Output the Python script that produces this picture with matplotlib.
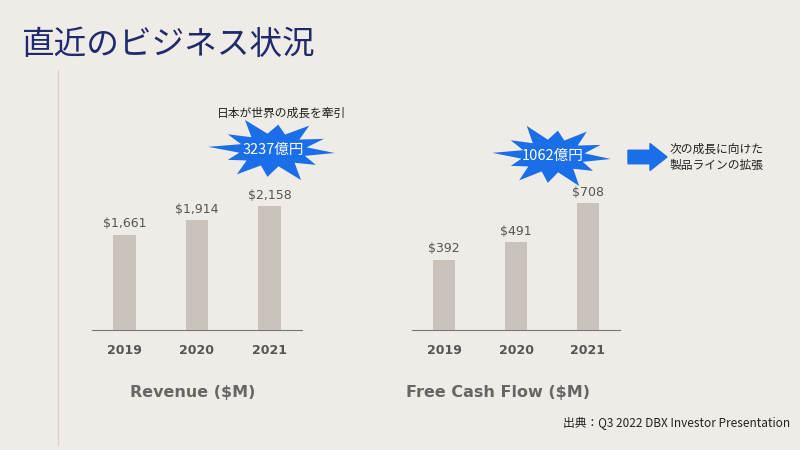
import numpy as np
import matplotlib.pyplot as plt
from matplotlib.patches import Polygon, FancyArrow

plt.rcParams['font.family'] = ['Noto Sans CJK JP', 'DejaVu Sans']

years = ['2019', '2020', '2021']
revenue = [1661, 1914, 2158]
fcf = [392, 491, 708]
rev_labels = ['$1,661', '$1,914', '$2,158']
fcf_labels = ['$392', '$491', '$708']

bg = '#efebe6'
bar_color = '#c9c3bb'
W, H = 800, 450

fig = plt.figure(figsize=(8, 4.5), dpi=100, facecolor=bg)


def fx(x):
    return x / W


def fy(y):
    return 1 - y / H


def bar_panel(left, right, top, values, labels, ymax, title, tx):
    ax = fig.add_axes([fx(left), fy(330), fx(right - left), fy(top) - fy(330)])
    ax.set_facecolor('none')
    x = np.arange(len(values))
    ax.bar(x, values, width=0.31, color=bar_color)
    for xi, v, lab in zip(x, values, labels):
        ax.text(xi, v + ymax * 0.03, lab, ha='center', va='bottom',
                fontsize=9, color='#555555', family='DejaVu Sans')
    ax.set_xlim(-0.45, len(values) - 0.55)
    ax.set_ylim(0, ymax)
    ax.set_yticks([])
    ax.set_xticks(x)
    ax.set_xticklabels(years, fontsize=9, fontweight='bold', color='#555555',
                       family='DejaVu Sans')
    ax.tick_params(axis='x', length=0, pad=10)
    for s in ['top', 'left', 'right']:
        ax.spines[s].set_visible(False)
    ax.spines['bottom'].set_color('#777777')
    fig.text(fx(tx), fy(393), title, ha='center', va='center', fontsize=11.5,
             fontweight='bold', color='#666666', family='DejaVu Sans')


bar_panel(92, 302, 181, revenue, rev_labels, 2600, 'Revenue ($M)', 193)
bar_panel(412, 620, 178, fcf, fcf_labels, 850, 'Free Cash Flow ($M)', 498)


def burst(cx, cy, rx, ry, label):
    n = 24
    ang = np.linspace(0, 2 * np.pi, n, endpoint=False)
    rad = np.where(np.arange(n) % 2 == 0, 1.0, 0.55)
    jitter = np.array([1.0, 1, 0.85, 1, 1.1, 1, 0.9, 1, 1.0, 1, 0.8, 1,
                       1.05, 1, 0.9, 1, 1.1, 1, 0.85, 1, 1.0, 1, 0.9, 1])
    r = rad * jitter
    pts = [(fx(cx + rx * ri * np.cos(a)), fy(cy + ry * ri * np.sin(a)))
           for a, ri in zip(ang + 0.1, r)]
    fig.patches.append(Polygon(pts, closed=True, transform=fig.transFigure,
                               facecolor='#1a6ee8', edgecolor='none'))
    fig.text(fx(cx), fy(cy), label, ha='center', va='center', fontsize=10.5,
             color='white')


burst(273, 150, 62, 30, '3237億円')
burst(553, 156, 58, 30, '1062億円')

fig.patches.append(FancyArrow(fx(628), fy(157), fx(22), 0, width=0.03,
                              head_width=0.06, head_length=fx(17),
                              length_includes_head=False,
                              transform=fig.transFigure, color='#1a6ee8'))

fig.text(fx(22), fy(45), '直近のビジネス状況', fontsize=23.5, color='#1f2a6e',
         va='center', ha='left')
fig.text(fx(282), fy(113), '日本が世界の成長を牽引', fontsize=8.5,
         color='#222222', ha='center', va='center')
fig.text(fx(670), fy(157), '次の成長に向けた\n製品ラインの拡張', fontsize=8.5,
         color='#222222', ha='left', va='center', linespacing=1.3)
fig.text(fx(790), fy(423), '出典：Q3 2022 DBX Investor Presentation',
         fontsize=8.5, color='#222222', ha='right', va='center')

fig.add_artist(plt.Line2D([fx(58), fx(58)], [fy(70), fy(445)],
                          color='#d8d2ca', linewidth=1))

fig.savefig('out.png', dpi=100, facecolor=bg)
